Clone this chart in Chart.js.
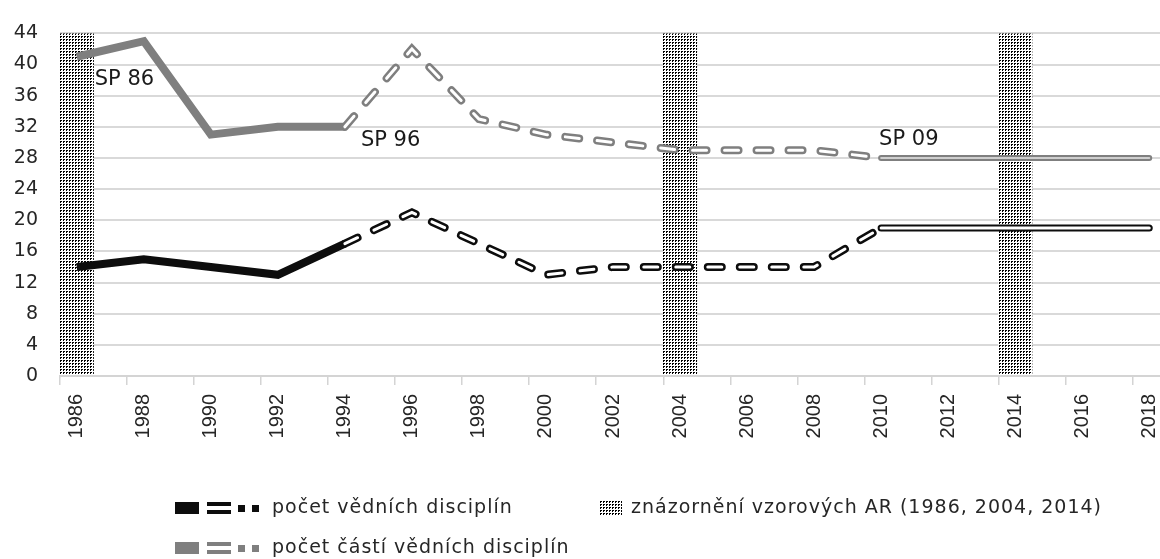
<!DOCTYPE html>
<html>
<head>
<meta charset="utf-8">
<script src="https://cdn.jsdelivr.net/npm/chart.js@4.4.1/dist/chart.umd.min.js"></script>
<style>
  html, body { margin: 0; padding: 0; overflow: hidden; background: #fff; }
  #graf { display: block; }
</style>
</head>
<body>
<canvas id="graf" width="1166" height="559"></canvas>
<script>
// kategorie na ose x (kazdy rok), popisky jen u sudych
var osaRoky = ['1986', '1987', '1988', '1989', '1990', '1991', '1992', '1993', '1994', '1995',
               '1996', '1997', '1998', '1999', '2000', '2001', '2002', '2003', '2004', '2005',
               '2006', '2007', '2008', '2009', '2010', '2011', '2012', '2013', '2014', '2015',
               '2016', '2017', '2018'];

// roky s hodnotami
var roky = [1986, 1988, 1990, 1992, 1994, 1996, 1998, 2000, 2002, 2004, 2006, 2008, 2010, 2012, 2014, 2016, 2018];
var pocetDisciplin = [14, 15, 14, 13, 17, 21, 17, 13, 14, 14, 14, 14, 19, 19, 19, 19, 19];
var pocetCasti     = [41, 43, 31, 32, 32, 42, 33, 31, 30, 29, 29, 29, 28, 28, 28, 28, 28];

// vzorove AR (sloupce pres celou vysku)
var vzoroveAR = [1986, 2004, 2014];
var yTicks = [0, 4, 8, 12, 16, 20, 24, 28, 32, 36, 40, 44];

// popisky SP
var popiskySP = [
  { text: 'SP 86', rok: '1986', y: 38.1, dx: 18 },
  { text: 'SP 96', rok: '1994', y: 30.3, dx: 16 },
  { text: 'SP 09', rok: '2010', y: 30.4, dx: -2 }
];

var CERNA = '#0d0d0d';
var SEDA = '#7f7f7f';

function usek(hodnoty, od, po) {
  var body = [];
  for (var i = od; i <= po; i++) {
    body.push({ x: String(roky[i]), y: hodnoty[i] });
  }
  return body;
}

// teckovany vzor
var dlazdice = document.createElement('canvas');
dlazdice.width = 3; dlazdice.height = 3;
var dc = dlazdice.getContext('2d');
dc.fillStyle = '#fff'; dc.fillRect(0, 0, 3, 3);
dc.fillStyle = '#000';
dc.fillRect(0, 0, 2, 1);
dc.fillRect(0, 1, 1, 1);
var ctx = document.getElementById('graf').getContext('2d');
var vzor = ctx.createPattern(dlazdice, 'repeat');

var DASH = [14, 18];

function cara(data, barva, sirka, poradi, extra) {
  var ds = {
    type: 'line',
    data: data,
    borderColor: barva,
    borderWidth: sirka,
    pointRadius: 0,
    fill: false,
    tension: 0,
    order: poradi
  };
  for (var k in extra) ds[k] = extra[k];
  return ds;
}

var datasets = [
  {
    type: 'bar',
    data: vzoroveAR.map(function (r) { return { x: String(r), y: yTicks[yTicks.length - 1] }; }),
    backgroundColor: vzor,
    borderWidth: 0,
    barPercentage: 1,
    categoryPercentage: 1,
    order: 20
  },
  // cast vednich disciplin
  cara(usek(pocetCasti, 0, 4), SEDA, 8, 12, {}),
  cara(usek(pocetCasti, 4, 12), SEDA, 8, 11, { borderDash: DASH, borderCapStyle: 'round' }),
  cara(usek(pocetCasti, 4, 12), '#ffffff', 3, 10, { borderDash: DASH, borderCapStyle: 'round' }),
  cara(usek(pocetCasti, 12, 16), SEDA, 6, 9, { borderCapStyle: 'round' }),
  cara(usek(pocetCasti, 12, 16), '#cfcfcf', 2, 8, { borderCapStyle: 'round' }),
  // vedni discipliny
  cara(usek(pocetDisciplin, 0, 4), CERNA, 8, 7, {}),
  cara(usek(pocetDisciplin, 4, 12), CERNA, 8, 6, { borderDash: DASH, borderCapStyle: 'round' }),
  cara(usek(pocetDisciplin, 4, 12), '#ffffff', 3, 5, { borderDash: DASH, borderCapStyle: 'round' }),
  cara(usek(pocetDisciplin, 12, 16), CERNA, 7, 4, { borderCapStyle: 'round' }),
  cara(usek(pocetDisciplin, 12, 16), '#ffffff', 3, 3, { borderCapStyle: 'round' })
];

var popiskyPlugin = {
  id: 'popisky',
  afterDraw: function (chart) {
    var c = chart.ctx;
    var sx = chart.scales.x, sy = chart.scales.y;
    c.save();
    c.fillStyle = '#1a1a1a';
    c.font = '21px "DejaVu Sans"';
    c.textBaseline = 'middle';
    c.textAlign = 'left';
    popiskySP.forEach(function (p) {
      c.fillText(p.text, sx.getPixelForValue(osaRoky.indexOf(p.rok)) + p.dx, sy.getPixelForValue(p.y));
    });

    // legenda
    c.font = '19px "DejaVu Sans"';
    c.letterSpacing = '1px';
    var radky = [
      { barva: CERNA, text: 'počet vědních disciplín', y: 508 },
      { barva: SEDA, text: 'počet částí vědních disciplín', y: 548 }
    ];
    radky.forEach(function (r) {
      c.fillStyle = r.barva;
      c.fillRect(175, r.y - 6, 24, 12);
      c.fillRect(207, r.y - 6, 24, 4);
      c.fillRect(207, r.y + 2, 24, 4);
      c.fillRect(238, r.y - 3, 7, 7);
      c.fillRect(252, r.y - 3, 7, 7);
      c.fillStyle = '#262626';
      c.fillText(r.text, 272, r.y);
    });
    var t2 = 'znázornění vzorových AR (1986, 2004, 2014)';
    var w2 = c.measureText(t2).width;
    var x2 = 1102 - w2;
    c.fillStyle = vzor;
    c.fillRect(x2 - 31, 501, 22, 14);
    c.fillStyle = '#262626';
    c.fillText(t2, x2, 508);
    c.letterSpacing = '0px';
    c.restore();
  }
};

new Chart(ctx, {
  type: 'line',
  data: { labels: osaRoky, datasets: datasets },
  plugins: [popiskyPlugin],
  options: {
    responsive: false,
    animation: false,
    events: [],
    layout: { padding: { top: 24, left: 0, right: 0, bottom: 0 } },
    plugins: {
      legend: { display: false },
      tooltip: { enabled: false }
    },
    scales: {
      x: {
        type: 'category',
        offset: true,
        afterFit: function (s) { s.height = 183; s.paddingLeft = 0; s.paddingRight = 0; },
        grid: {
          offset: true,
          drawOnChartArea: false,
          drawTicks: true,
          tickLength: 9,
          lineWidth: 1.5,
          color: function (c) { return c.index % 2 === 0 ? '#d4d4d4' : 'rgba(0,0,0,0)'; }
        },
        border: { display: true, color: '#d4d4d4', width: 2, z: 1 },
        ticks: {
          autoSkip: false,
          minRotation: 90,
          maxRotation: 90,
          padding: 9,
          color: '#262626',
          font: { family: '"Liberation Sans"', size: 20 },
          callback: function (v, i) { return i % 2 === 0 ? osaRoky[i] : ''; }
        }
      },
      y: {
        min: 0,
        max: 44,
        afterFit: function (s) { s.width = 60; },
        afterBuildTicks: function (s) { s.ticks = yTicks.map(function (v) { return { value: v }; }); },
        grid: { drawTicks: false, color: '#d9d9d9', lineWidth: 2 },
        border: { display: false },
        ticks: {
          padding: 22,
          color: '#262626',
          font: { family: '"DejaVu Sans"', size: 19 }
        }
      }
    }
  }
});
</script>
</body>
</html>
